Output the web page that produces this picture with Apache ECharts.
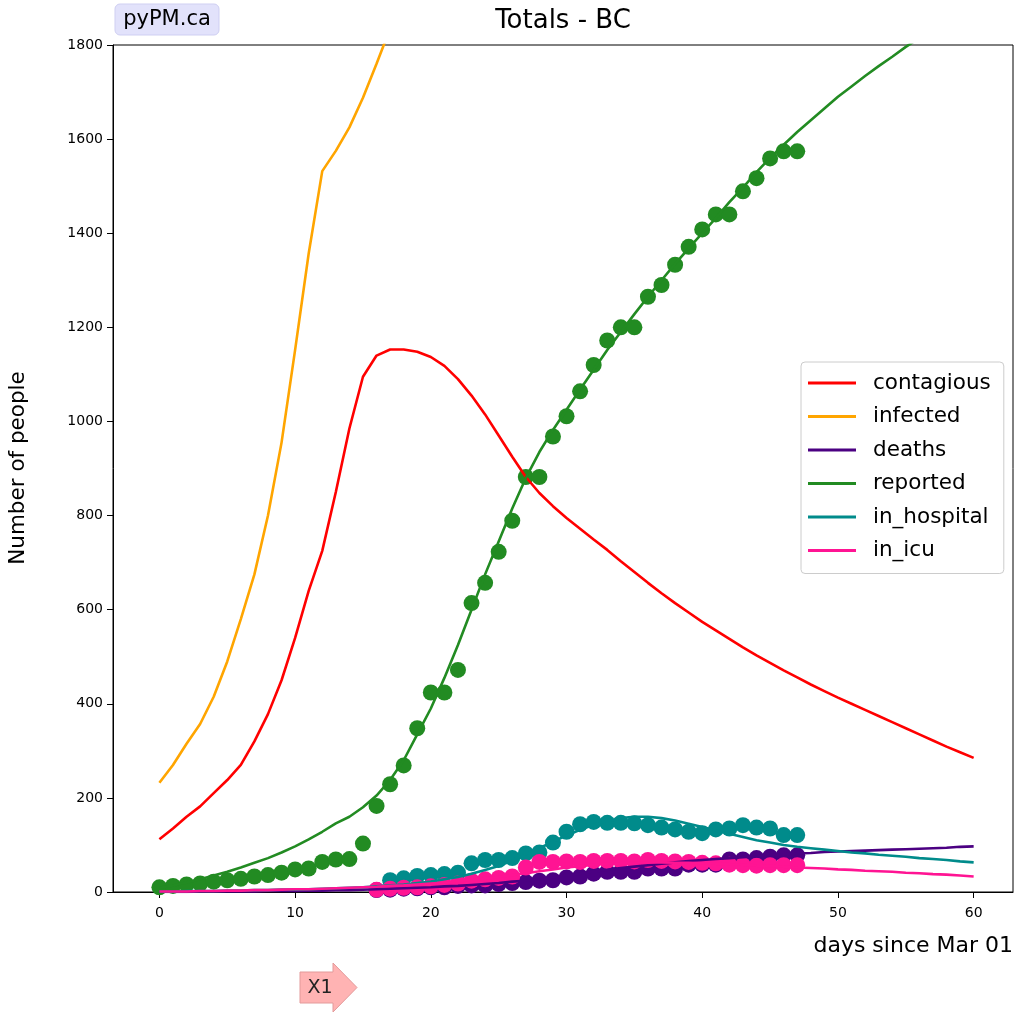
<!DOCTYPE html>
<html>
<head>
<meta charset="utf-8">
<title>Totals - BC</title>
<script src="https://cdn.jsdelivr.net/npm/echarts@6/dist/echarts.min.js"></script>
<style>
  html, body { margin: 0; padding: 0; background: #ffffff; }
  #chart { width: 1015px; height: 1013px; }
</style>
</head>
<body>
<div id="chart"></div>
<script>
// ---- model curves (one value per day, days since Mar 01) ----
const modelDays = [0,1,2,3,4,5,6,7,8,9,10,11,12,13,14,15,16,17,18,19,20,
  21,22,23,24,25,26,27,28,29,30,31,32,33,34,35,36,37,38,39,40,
  41,42,43,44,45,46,47,48,49,50,51,52,53,54,55,56,57,58,59,60];

const contagious = [112,135,160,182,210,238,270,320,378,450,540,640,725,850,985,1095,1140,1153,1153,1148,1137,
  1118,1090,1055,1015,970,925,882,848,820,795,772,749,727,703,680,657,635,614,594,574,
  556,538,520,503,487,471,456,441,427,413,400,387,374,361,348,335,322,309,297,285];

// infected leaves the top of the plot after day 16
const infectedDays = [0,1,2,3,4,5,6,7,8,9,10,11,12,13,14,15,16,17,18];
const infected = [232,270,315,357,415,490,580,675,800,955,1152,1357,1532,1575,1625,1688,1760,1835,1910];

const deaths = [0,0,0,1,1,1,1,1,2,2,2,3,3,4,4,5,6,7,8,9,10,
  12,13,15,17,19,22,24,27,31,35,39,44,47,51,54,57,60,63,66,68,
  70,72,74,76,78,80,82,83,85,86,87,88,89,90,91,92,93,94,96,97];

const reported = [9,14,20,27,35,43,52,62,72,84,97,112,128,146,160,180,205,238,280,335,390,
  455,525,600,675,745,815,880,935,982,1025,1068,1110,1152,1190,1228,1265,1300,1335,1368,1400,
  1432,1466,1497,1530,1560,1588,1615,1640,1665,1690,1712,1734,1755,1775,1796,1815,1834,1852,1870,1887];

const inHospital = [1,1,2,2,2,3,3,4,4,5,5,6,7,8,9,10,12,14,16,19,22,
  27,32,39,47,55,67,80,93,107,120,132,143,151,157,160,160,157,152,145,138,
  131,124,117,110,105,100,96,93,90,87,84,82,79,77,75,72,70,68,65,63];

const inIcu = [1,1,1,2,2,3,3,4,4,5,6,6,7,8,9,10,11,13,14,16,18,
  20,23,26,29,32,36,40,44,48,52,55,58,60,61,62,63,63,62,62,61,
  60,59,58,56,55,54,52,51,50,48,47,45,44,43,41,40,38,37,35,33];

// ---- observed data ----
const reportedObsDays = [0,1,2,3,4,5,6,7,8,9,10,11,12,13,14,15,16,17,18,19,20,21,22,23,
  24,25,26,27,28,29,30,31,32,33,34,35,36,37,38,39,40,41,42,43,44,45,46,47];
const reportedObs = [10,13,16,18,22,25,28,33,36,41,48,50,64,69,70,103,183,229,269,348,424,424,472,614,
  657,723,789,882,882,968,1011,1064,1120,1172,1200,1200,1265,1290,1333,1371,1408,1440,1440,1489,1517,1559,1574,1574];

const hospitalObsDays = [17,18,19,20,21,22,23,24,25,26,27,28,29,30,31,
  32,33,34,35,36,37,38,39,40,41,42,43,44,45,46,47];
const hospitalObs = [25,29,34,36,38,41,61,68,68,72,82,84,105,128,144,
  149,147,147,146,142,137,133,128,125,133,135,142,137,135,121,121];

const careObsDays = [16,17,18,19,20,21,22,23,24,25,26,27,28,29,30,31,
  32,33,34,35,36,37,38,39,40,41,42,43,44,45,46,47];
const icuObs = [5,7,9,10,12,15,18,24,27,30,33,52,64,64,65,64,
  66,66,66,65,68,66,65,64,62,61,58,57,56,57,57,57];
const deathsObs = [4,5,7,8,10,10,13,14,14,17,19,21,24,25,31,33,
  39,43,43,43,50,50,50,58,58,58,69,69,72,75,78,78];

// ---- axis ticks ----
const xTicks = [0,10,20,30,40,50,60];
const yTicks = [0,200,400,600,800,1000,1200,1400,1600,1800];

const FONT = 'DejaVu Sans';
const COLORS = {
  contagious: '#ff0000',
  infected: '#ffa500',
  deaths: '#4b0082',
  reported: '#228b22',
  in_hospital: '#008b8b',
  in_icu: '#ff1493'
};

function pairs(xs, ys) { return xs.map((x, i) => [x, ys[i]]); }

function lineSeries(name, xs, ys) {
  return {
    name: name, type: 'line', data: pairs(xs, ys),
    showSymbol: false, symbol: 'none', smooth: false, clip: true,
    color: COLORS[name],
    lineStyle: { color: COLORS[name], width: 2.6 },
    z: 6, silent: true, animation: false
  };
}

function dotSeries(name, xs, ys, z) {
  return {
    name: name + '_data', type: 'scatter', data: pairs(xs, ys),
    symbol: 'circle', symbolSize: 16, clip: true,
    itemStyle: { color: COLORS[name], opacity: 1 },
    z: z, silent: true, animation: false
  };
}

const chart = echarts.init(document.getElementById('chart'), null, { renderer: 'canvas' });

chart.setOption({
  animation: false,
  backgroundColor: '#ffffff',
  textStyle: { fontFamily: FONT },
  grid: {
    left: 113, right: 2, top: 45, bottom: 121,
    show: true, borderColor: '#000000', borderWidth: 1, backgroundColor: 'transparent'
  },
  xAxis: {
    type: 'value', min: -3.42, max: 62.9,
    splitLine: { show: false },
    axisLine: { show: true, onZero: false, lineStyle: { color: '#000', width: 1 } },
    axisTick: { show: true, length: 6, lineStyle: { color: '#000' }, customValues: xTicks },
    axisLabel: { color: '#000', fontSize: 14, fontFamily: FONT, margin: 14, customValues: xTicks }
  },
  yAxis: {
    type: 'value', min: 0, max: 1800, interval: 200,
    splitLine: { show: false },
    axisLine: { show: true, onZero: false, lineStyle: { color: '#000', width: 1 } },
    axisTick: { show: true, length: 6, lineStyle: { color: '#000' }, customValues: yTicks },
    axisLabel: { color: '#000', fontSize: 14, fontFamily: FONT, margin: 10, customValues: yTicks,
      formatter: (v) => String(v) }
  },
  legend: {
    orient: 'vertical', left: 801, top: 362,
    data: ['contagious', 'infected', 'deaths', 'reported', 'in_hospital', 'in_icu'],
    icon: 'rect', itemWidth: 48, itemHeight: 3, itemGap: 11.5,
    padding: [10, 13, 12, 7],
    backgroundColor: 'rgba(255,255,255,0.85)', borderColor: '#cccccc', borderWidth: 1, borderRadius: 4,
    textStyle: { fontSize: 21.5, fontFamily: FONT, color: '#000', lineHeight: 22, padding: [0, 0, 0, 12] }
  },
  series: [
    dotSeries('reported', reportedObsDays, reportedObs, 2),
    dotSeries('deaths', careObsDays, deathsObs, 3),
    dotSeries('in_hospital', hospitalObsDays, hospitalObs, 4),
    dotSeries('in_icu', careObsDays, icuObs, 5),
    lineSeries('contagious', modelDays, contagious),
    lineSeries('infected', infectedDays, infected),
    lineSeries('deaths', modelDays, deaths),
    lineSeries('reported', modelDays, reported),
    lineSeries('in_hospital', modelDays, inHospital),
    lineSeries('in_icu', modelDays, inIcu)
  ],
  graphic: [
    { type: 'text', x: 563, y: 21, style: { text: 'Totals - BC', font: '26px "DejaVu Sans"', fill: '#000', align: 'center', verticalAlign: 'middle' } },
    { type: 'rect', shape: { x: 115, y: 4, width: 104, height: 31, r: 5 },
      style: { fill: '#e2e2fb', stroke: '#cfcff2', lineWidth: 1 } },
    { type: 'text', x: 167, y: 19.5, style: { text: 'pyPM.ca', font: '21px "DejaVu Sans"', fill: '#000', align: 'center', verticalAlign: 'middle' } },
    { type: 'text', x: 18, y: 468, rotation: Math.PI / 2,
      style: { text: 'Number of people', font: '21.5px "DejaVu Sans"', fill: '#000', align: 'center', verticalAlign: 'middle' } },
    { type: 'text', x: 1013, y: 946, style: { text: 'days since Mar 01', font: '22px "DejaVu Sans"', fill: '#000', align: 'right', verticalAlign: 'middle' } },
    { type: 'polygon', shape: { points: [[300, 972], [333, 972], [333, 963], [357, 987.5], [333, 1012], [333, 1003], [300, 1003]] },
      style: { fill: '#ffb3b3', stroke: '#e39a9a', lineWidth: 1 } },
    { type: 'text', x: 320, y: 988, style: { text: 'X1', font: '19px "DejaVu Sans"', fill: '#222', align: 'center', verticalAlign: 'middle' } }
  ]
});
</script>
</body>
</html>
